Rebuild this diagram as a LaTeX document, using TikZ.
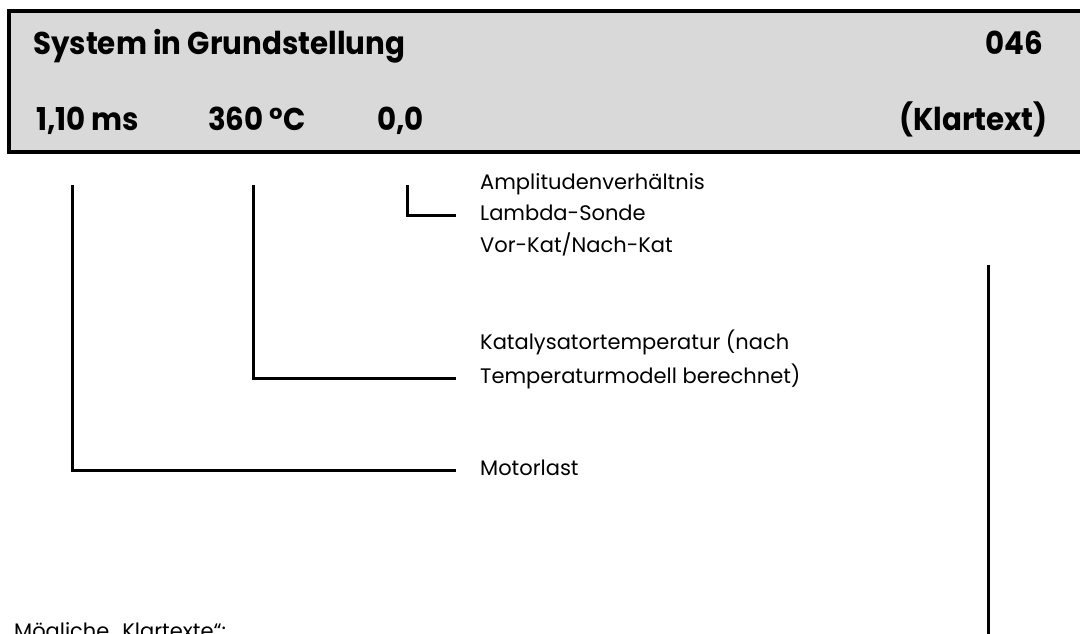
\documentclass[tikz,border=0pt]{standalone}
\usepackage{fontspec}
\setmainfont{Poppins}
\newfontfamily\hdrfont[FakeStretch=0.93]{Poppins}
\definecolor{boxgray}{RGB}{217,217,217}
\begin{document}
\begin{tikzpicture}[x=1pt,y=-1pt,
  hdr/.style={inner sep=0pt,font=\hdrfont\fontsize{31.5}{31.5}\selectfont\bfseries},
  lbl/.style={inner xsep=24pt,inner ysep=0pt,text height=10pt,text depth=0pt,anchor=base west,font=\fontsize{21}{21}\selectfont},
  conn/.style={line width=3pt,line cap=butt,line join=miter}]
\useasboundingbox (0,0) rectangle (1080,633);
\clip (0,0) rectangle (1080,633);
\fill[white] (0,0) rectangle (1080,633);
% header box
\fill[boxgray] (9,11) rectangle (1080,152);
\draw[line width=4pt,line join=miter] (1085,11) -- (9,11) -- (9,152) -- (1085,152);
\node[hdr,anchor=base west] (title) at (33,54) {System in Grundstellung};
\node[hdr,anchor=base east] (num) at (1043,54) {046};
\node[hdr,anchor=base west] (v1) at (36,130) {1,10 ms};
\node[hdr,anchor=base west] (v2) at (208,130) {360 °C};
\node[hdr,anchor=base west] (v3) at (377,130) {0,0};
\node[hdr,anchor=base east] (v4) at (1048,130) {(Klartext)};
% labels
\node[lbl] (amp1) at (456,189) {Amplitudenverhältnis};
\node[lbl] (amp2) at (456,220) {Lambda-Sonde};
\node[lbl] (amp3) at (456,252) {Vor-Kat/Nach-Kat};
\node[lbl] (kat1) at (456,349) {Katalysatortemperatur (nach};
\node[lbl] (kat2) at (456,383) {Temperaturmodell berechnet)};
\node[lbl] (motor) at (456,475) {Motorlast};
\node[anchor=base west,inner sep=0pt,font=\fontsize{21}{21}\selectfont] (list) at (14,638) {Mögliche „Klartexte“:};
% connectors
\coordinate (c1) at (72,185);
\coordinate (c2) at (253,185);
\coordinate (c3) at (407.5,185);
\coordinate (c4) at (988,265);
\coordinate (c4b) at (988,640);
\draw[conn] (c1) |- (motor.west);
\draw[conn] (c2) |- (kat2.west);
\draw[conn] (c3) |- (amp2.west);
\draw[conn] (c4) -- (c4b);
\end{tikzpicture}
\end{document}
